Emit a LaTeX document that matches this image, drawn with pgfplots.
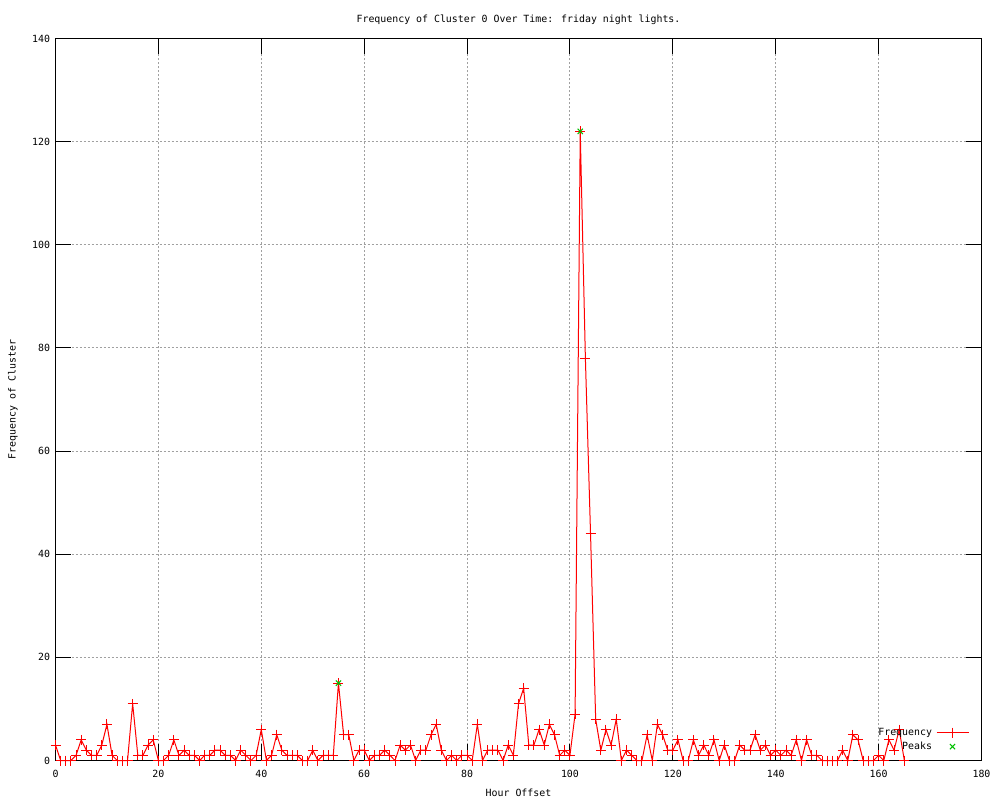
\documentclass[border=0pt]{standalone}
\usepackage{pgfplots}
\pgfplotsset{compat=1.18}
\usepackage{fontspec}
\setmainfont{DejaVu Sans Mono}
\definecolor{gridgray}{RGB}{160,160,160}
\definecolor{peakgreen}{RGB}{0,192,0}
\newcommand{\gfont}{\fontsize{9.9}{11.5}\selectfont}
\begin{document}
\gfont
\begin{tikzpicture}
\useasboundingbox (0,0) rectangle (1000pt,800pt);
\begin{axis}[
  at={(55.5pt,39.5pt)}, anchor=south west,
  scale only axis, width=926pt, height=722pt,
  xmin=0, xmax=180, ymin=0, ymax=140,
  xtick={0,20,...,180}, ytick={0,20,...,140},
  /pgf/number format/assume math mode=true,
  tick align=inside, tick pos=both,
  major tick length=16pt,
  every tick/.style={black, line width=1pt},
  axis line style={line width=1pt},
  grid=major,
  major grid style={gridgray, line width=1pt, dash pattern=on 2pt off 2pt},
  ticklabel style={font=\gfont},
  xticklabel style={yshift=-6pt},
  yticklabel style={xshift=-2pt},
  title={Frequency of Cluster 0 Over Time: friday night lights.},
  title style={at={(axis description cs:0.5,1)}, anchor=center, yshift=13pt, font=\gfont},
  xlabel={Hour Offset},
  xlabel style={at={(axis description cs:0.5,-0.045)}, anchor=center, font=\gfont},
  ylabel={Frequency of Cluster},
  ylabel style={at={(axis description cs:-0.0459,0.5)}, anchor=center, font=\gfont},
  clip=false,
  legend plot pos=right,
  legend cell align=right,
  legend image code/.code={\draw[mark repeat=2,mark phase=2,#1] plot coordinates {(0pt,0pt) (16pt,0pt) (32pt,0pt)};},
  legend style={draw=none, fill=none, inner sep=0pt, outer sep=0pt,
    at={(axis description cs:0.9865,0.011)}, anchor=south east,
    font=\gfont,
    nodes={inner sep=1.5pt}, column sep=2.5pt, row sep=2pt},
]
\addplot[red, line width=1pt, mark=+, mark size=5pt, mark options={solid, line width=1pt}] table {
x y
0 3
1 0
2 0
3 0
4 1
5 4
6 2
7 1
8 1
9 3
10 7
11 1
12 0
13 0
14 0
15 11
16 1
17 1
18 3
19 4
20 0
21 0
22 1
23 4
24 1
25 2
26 1
27 1
28 0
29 1
30 1
31 2
32 2
33 1
34 1
35 0
36 2
37 1
38 0
39 1
40 6
41 0
42 1
43 5
44 2
45 1
46 1
47 1
48 0
49 0
50 2
51 0
52 1
53 1
54 1
55 15
56 5
57 5
58 0
59 2
60 2
61 0
62 1
63 1
64 2
65 1
66 0
67 3
68 2
69 3
70 0
71 2
72 2
73 5
74 7
75 2
76 0
77 1
78 0
79 1
80 1
81 0
82 7
83 0
84 2
85 2
86 2
87 0
88 3
89 1
90 11
91 14
92 3
93 3
94 6
95 3
96 7
97 5
98 1
99 2
100 1
101 9
102 122
103 78
104 44
105 8
106 2
107 6
108 3
109 8
110 0
111 2
112 1
113 0
114 0
115 5
116 0
117 7
118 5
119 2
120 2
121 4
122 0
123 0
124 4
125 1
126 3
127 1
128 4
129 0
130 3
131 0
132 0
133 3
134 2
135 2
136 5
137 2
138 3
139 1
140 2
141 1
142 2
143 1
144 4
145 0
146 4
147 1
148 1
149 0
150 0
151 0
152 0
153 2
154 0
155 5
156 4
157 0
158 0
159 0
160 1
161 0
162 4
163 2
164 6
165 0
};
\addlegendentry{Frequency}
\addplot[only marks, peakgreen, mark=x, mark size=3.7pt, mark options={line width=1pt}] table {
x y
55 15
102 122
};
\addlegendentry{Peaks}
\end{axis}
\end{tikzpicture}
\end{document}
